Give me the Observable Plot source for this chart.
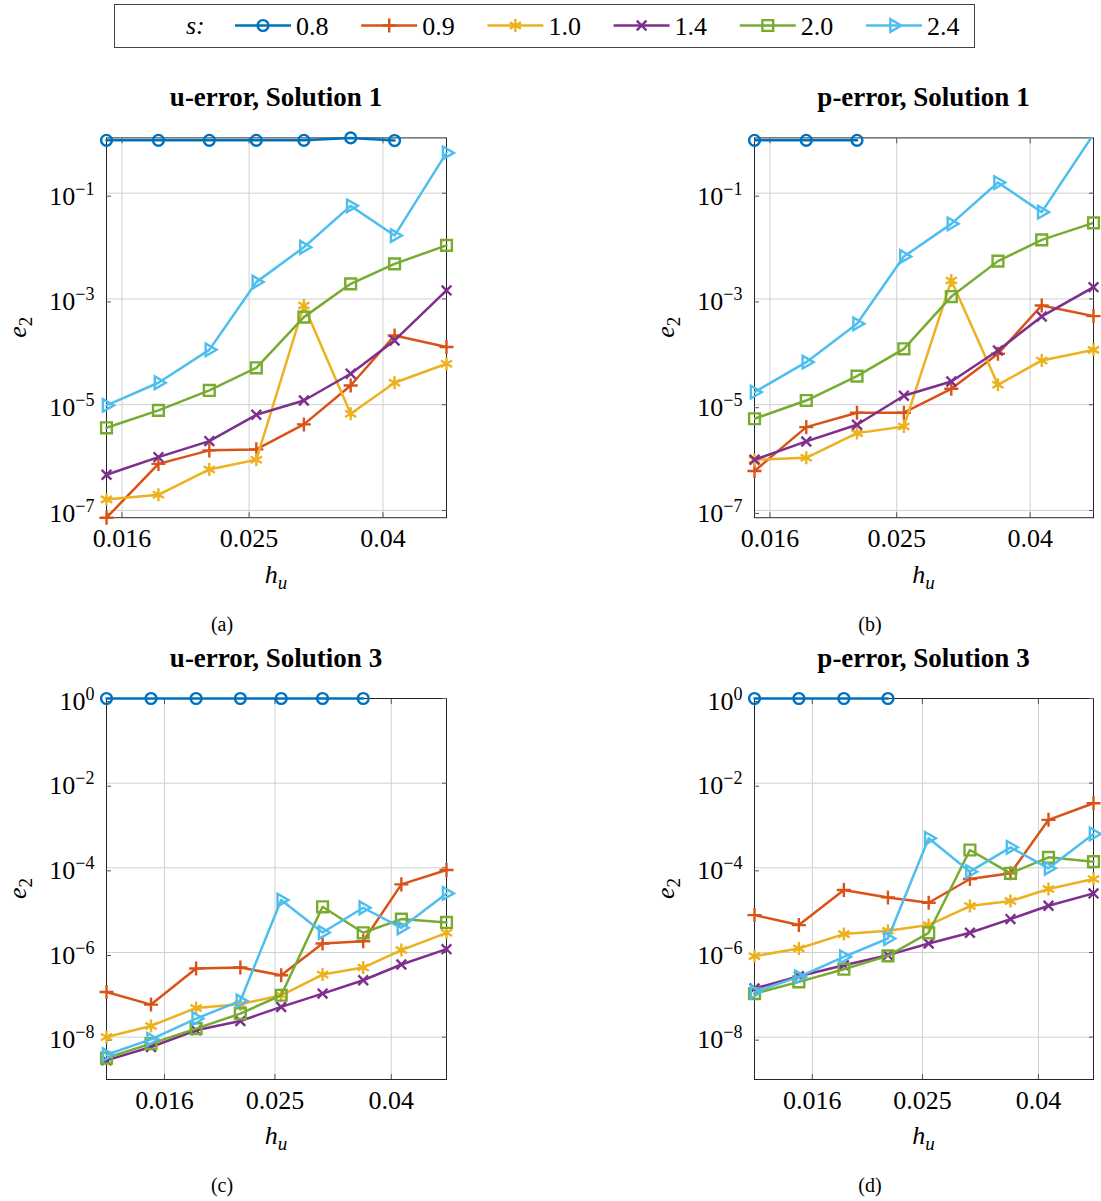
<!DOCTYPE html>
<html><head><meta charset="utf-8">
<script src="https://cdn.jsdelivr.net/npm/d3@7"></script>
<script src="https://cdn.jsdelivr.net/npm/@observablehq/plot@0.6"></script>
<style>
body{margin:0;background:#fff;}
#root{position:relative;width:1101px;height:1201px;font-family:"Liberation Serif","Times New Roman",serif;}
.panel{position:absolute;}
#overlay{position:absolute;left:0;top:0;pointer-events:none;}
</style></head>
<body><div id="root"></div>
<script>
// ---------- data ----------
const hAB = [1/66, 1/55, 1/46, 1/39, 1/33, 1/28, 1/24, 1/20];
const hCD = [1/79, 1/66, 1/55, 1/46, 1/39, 1/33, 1/28, 1/24, 1/20];
const sLabels = ["0.8", "0.9", "1.0", "1.4", "2.0", "2.4"];
const colors = ["#0072BD", "#D95319", "#EDB120", "#7E2F8E", "#77AC30", "#4DBEEE"];
const xTicks = [0.016, 0.025, 0.04];
const xTickLabels = ["0.016", "0.025", "0.04"];
const yTicksAB = [1e-1, 1e-3, 1e-5, 1e-7];
const yTicksCD = [1e0, 1e-2, 1e-4, 1e-6, 1e-8];
const yDomainAB = [7.3e-8, 1.11];
const yDomainCD = [1e-9, 1];

// (a) u-error, Solution 1
const a08 = [1.0, 1.0, 1.0, 1.0, 1.0, 1.11, 0.99];
const a09 = [7.3e-8, 7.6e-7, 1.37e-6, 1.43e-6, 4.24e-6, 2.31e-5, 2.04e-4, 1.23e-4];
const a10 = [1.62e-7, 1.98e-7, 5.97e-7, 9.1e-7, 7.52e-4, 6.74e-6, 2.6e-5, 5.94e-5];
const a14 = [4.74e-7, 1.02e-6, 2.05e-6, 6.45e-6, 1.2e-5, 3.85e-5, 1.64e-4, 1.45e-3];
const a20 = [3.66e-6, 7.8e-6, 1.86e-5, 4.99e-5, 4.53e-4, 1.93e-3, 4.61e-3, 1.03e-2];
const a24 = [9.7e-6, 2.6e-5, 1.09e-4, 2.08e-3, 9.5e-3, 5.76e-2, 1.58e-2, 0.578];
// (b) p-error, Solution 1
const b08 = [1.0, 1.0, 1.0];
const b09 = [5.56e-7, 3.77e-6, 7.05e-6, 7.05e-6, 2.0e-5, 9.18e-5, 7.53e-4, 4.73e-4];
const b10 = [9.1e-7, 9.9e-7, 2.9e-6, 3.88e-6, 2.23e-3, 2.38e-5, 6.87e-5, 1.09e-4];
const b14 = [9.1e-7, 2.02e-6, 4.18e-6, 1.48e-5, 2.75e-5, 1.06e-4, 4.67e-4, 1.67e-3];
const b20 = [5.42e-6, 1.2e-5, 3.47e-5, 1.14e-4, 1.11e-3, 5.19e-3, 1.31e-2, 2.75e-2];
const b24 = [1.73e-5, 6.38e-5, 3.39e-4, 6.35e-3, 2.63e-2, 0.159, 4.38e-2, 1.3];
// (c) u-error, Solution 3
const c08 = [1, 1, 1, 1, 1, 1, 1];
const c09 = [1.17e-7, 5.88e-8, 4.18e-7, 4.41e-7, 2.91e-7, 1.63e-6, 1.85e-6, 4.07e-5, 8.89e-5];
const c10 = [1.01e-8, 1.84e-8, 4.9e-8, 5.98e-8, 9.77e-8, 3.01e-7, 4.41e-7, 1.14e-6, 2.92e-6];
const c14 = [2.83e-9, 5.85e-9, 1.45e-8, 2.41e-8, 5.18e-8, 1.07e-7, 2.21e-7, 5.2e-7, 1.2e-6];
const c20 = [3.21e-9, 7.02e-9, 1.59e-8, 3.6e-8, 9.77e-8, 1.2e-5, 2.92e-6, 6.15e-6, 5.13e-6];
const c24 = [3.85e-9, 8.89e-9, 2.74e-8, 7.18e-8, 1.73e-5, 2.97e-6, 1.14e-5, 3.83e-6, 2.49e-5];
// (d) p-error, Solution 3
const d08 = [1, 1, 1, 1];
const d09 = [7.65e-6, 4.44e-6, 2.99e-5, 2.0e-5, 1.5e-5, 5.44e-5, 7.41e-5, 1.36e-3, 3.36e-3];
const d10 = [8.19e-7, 1.24e-6, 2.72e-6, 3.26e-6, 4.44e-6, 1.25e-5, 1.64e-5, 3.16e-5, 5.44e-5];
const d14 = [1.41e-7, 2.75e-7, 5.01e-7, 8.65e-7, 1.63e-6, 2.92e-6, 6.15e-6, 1.27e-5, 2.49e-5];
const d20 = [1.07e-7, 2.02e-7, 4.03e-7, 8.34e-7, 2.92e-6, 2.64e-4, 7.41e-5, 1.77e-4, 1.4e-4];
const d24 = [1.17e-7, 2.65e-7, 7.89e-7, 2.14e-6, 4.99e-4, 8.11e-5, 3.05e-4, 9.73e-5, 6.32e-4];

// ---------- marker symbols ----------
const R = (size) => Math.sqrt(size / Math.PI);
const symbols = [
  {draw(c, s) { const r = R(s); c.moveTo(r, 0); c.arc(0, 0, r, 0, 2 * Math.PI); }},
  {draw(c, s) { const r = R(s) * 1.3; c.moveTo(-r, 0); c.lineTo(r, 0); c.moveTo(0, -r); c.lineTo(0, r); }},
  {draw(c, s) { const r = R(s) * 1.2; for (let k = 0; k < 3; k++) { const a = Math.PI / 2 + k * Math.PI / 3; c.moveTo(r * Math.cos(a), r * Math.sin(a)); c.lineTo(-r * Math.cos(a), -r * Math.sin(a)); } }},
  {draw(c, s) { const r = R(s) * 0.9; c.moveTo(-r, -r); c.lineTo(r, r); c.moveTo(-r, r); c.lineTo(r, -r); }},
  {draw(c, s) { const r = R(s) * 1.0; c.rect(-r, -r, 2 * r, 2 * r); }},
  {draw(c, s) { const r = R(s) * 1.35; c.moveTo(r, 0); c.lineTo(-r / 2, -r * 0.866); c.lineTo(-r / 2, r * 0.866); c.closePath(); }}
];
const MR = 5.4, MSW = 2.4, LSW = 2.5;

const FONT = '"Liberation Serif","Times New Roman",serif';
const root = document.getElementById("root");

const panels = [
  {left: 0, top: 100, mL: 106, mR: 105, mT: 37.4, mB: 42.8, h: hAB, yDomain: yDomainAB, yTicks: yTicksAB, series: [a08, a09, a10, a14, a20, a24], clip: false},
  {left: 550, top: 100, mL: 204, mR: 8, mT: 37.4, mB: 42.8, h: hAB, yDomain: yDomainAB, yTicks: yTicksAB, series: [b08, b09, b10, b14, b20, b24], clip: true},
  {left: 0, top: 660, mL: 106, mR: 105, mT: 38, mB: 41, h: hCD, yDomain: yDomainCD, yTicks: yTicksCD, series: [c08, c09, c10, c14, c20, c24], clip: false},
  {left: 550, top: 660, mL: 204, mR: 8, mT: 38, mB: 41, h: hCD, yDomain: yDomainCD, yTicks: yTicksCD, series: [d08, d09, d10, d14, d20, d24], clip: false}
];

function superscripts(svg) {
  svg.querySelectorAll("text").forEach(t => {
    const m = /^10\^(-?\d+)$/.exec(t.textContent);
    if (!m) return;
    t.textContent = "10";
    const ts = document.createElementNS("http://www.w3.org/2000/svg", "tspan");
    ts.setAttribute("dy", "-10");
    ts.setAttribute("font-size", "18");
    ts.textContent = m[1].replace("-", "\u2212");
    t.appendChild(ts);
  });
}

panels.forEach(p => {
  const marks = [
    Plot.gridX(xTicks, {stroke: "#d0d0d0", strokeOpacity: 1}),
    Plot.gridY(p.yTicks, {stroke: "#d0d0d0", strokeOpacity: 1}),
    Plot.frame({stroke: "#262626"}),
    Plot.axisX({anchor: "bottom", ticks: xTicks, tickFormat: d => xTickLabels[xTicks.indexOf(d)], tickSize: -5, tickPadding: 16, fontSize: 26, label: null, stroke: "#555"}),
    Plot.axisX({anchor: "top", ticks: xTicks, tickFormat: () => "", tickSize: -5, label: null, stroke: "#555"}),
    Plot.axisY({anchor: "left", ticks: p.yTicks, tickFormat: d => "10^" + Math.round(Math.log10(d)), tickSize: -5, tickPadding: 17, fontSize: 26, dy: 3, label: null, stroke: "#555"}),
    Plot.axisY({anchor: "right", ticks: p.yTicks, tickFormat: () => "", tickSize: -5, label: null, stroke: "#555"})
  ];
  p.series.forEach((vals, i) => {
    const rows = vals.map((v, j) => ({h: p.h[j], e: v}));
    marks.push(Plot.line(rows, {x: "h", y: "e", stroke: colors[i], strokeWidth: LSW, clip: p.clip}));
    marks.push(Plot.dot(rows.filter(d => d.e <= p.yDomain[1] * 1.0001), {x: "h", y: "e", symbol: symbols[i], r: MR, stroke: colors[i], fill: "none", strokeWidth: MSW}));
  });
  const svg = Plot.plot({
    width: 551, height: 460,
    marginLeft: p.mL, marginRight: p.mR, marginTop: p.mT, marginBottom: p.mB,
    x: {type: "log", domain: [p.h[0], p.h[p.h.length - 1]]},
    y: {type: "log", domain: p.yDomain},
    style: {fontFamily: FONT, fontSize: "26px", color: "black", background: "transparent", overflow: "visible"},
    marks
  });
  superscripts(svg);
  const div = document.createElement("div");
  div.className = "panel";
  div.style.left = p.left + "px";
  div.style.top = p.top + "px";
  div.appendChild(svg);
  root.appendChild(div);
});

// ---------- overlay texts & legend ----------
const titles = ["u-error, Solution 1", "p-error, Solution 1", "u-error, Solution 3", "p-error, Solution 3"];
const captions = ["(a)", "(b)", "(c)", "(d)"];
const frameCx = [276, 923.5, 276, 923.5];
const captionCx = [222, 870, 222, 870];
const rowDy = [0, 0, 561, 561];
const frameCy = [327.3, 327.3, 888.5, 888.5];
const yLabelX = [26, 674, 26, 674];

const ov = d3.select(root).append("svg").attr("id", "overlay")
  .attr("width", 1101).attr("height", 1201)
  .style("font-family", FONT);

titles.forEach((t, i) => {
  ov.append("text").attr("x", frameCx[i]).attr("y", 106 + rowDy[i])
    .attr("text-anchor", "middle").attr("font-size", 27).attr("font-weight", "bold").text(t);
  const xl = ov.append("text").attr("x", frameCx[i]).attr("y", 583 + rowDy[i])
    .attr("text-anchor", "middle").attr("font-size", 26).attr("font-style", "italic");
  xl.append("tspan").text("h");
  xl.append("tspan").attr("font-size", 19).attr("dy", 6).text("u");
  const yl = ov.append("text").attr("transform", `translate(${yLabelX[i]},${frameCy[i]}) rotate(-90)`)
    .attr("text-anchor", "middle").attr("font-size", 26);
  yl.append("tspan").attr("font-style", "italic").text("e");
  yl.append("tspan").attr("font-size", 19).attr("dy", 6).text("2");
  ov.append("text").attr("x", captionCx[i]).attr("y", 631 + rowDy[i])
    .attr("text-anchor", "middle").attr("font-size", 20).text(captions[i]);
});

// legend
ov.append("rect").attr("x", 114.5).attr("y", 4.5).attr("width", 860).attr("height", 43)
  .attr("fill", "white").attr("stroke", "#444").attr("stroke-width", 1);
ov.append("text").attr("x", 186).attr("y", 34).attr("font-size", 26).attr("font-style", "italic").text("s:");
sLabels.forEach((lab, i) => {
  const x0 = 235 + i * 126.2;
  ov.append("line").attr("x1", x0).attr("x2", x0 + 56).attr("y1", 25.5).attr("y2", 25.5)
    .attr("stroke", colors[i]).attr("stroke-width", LSW);
  ov.append("path").attr("d", d3.symbol(symbols[i], Math.PI * MR * MR)())
    .attr("transform", `translate(${x0 + 28},25.5)`)
    .attr("fill", "none").attr("stroke", colors[i]).attr("stroke-width", MSW);
  ov.append("text").attr("x", x0 + 61).attr("y", 35).attr("font-size", 26).text(lab);
});
</script>
</body></html>
